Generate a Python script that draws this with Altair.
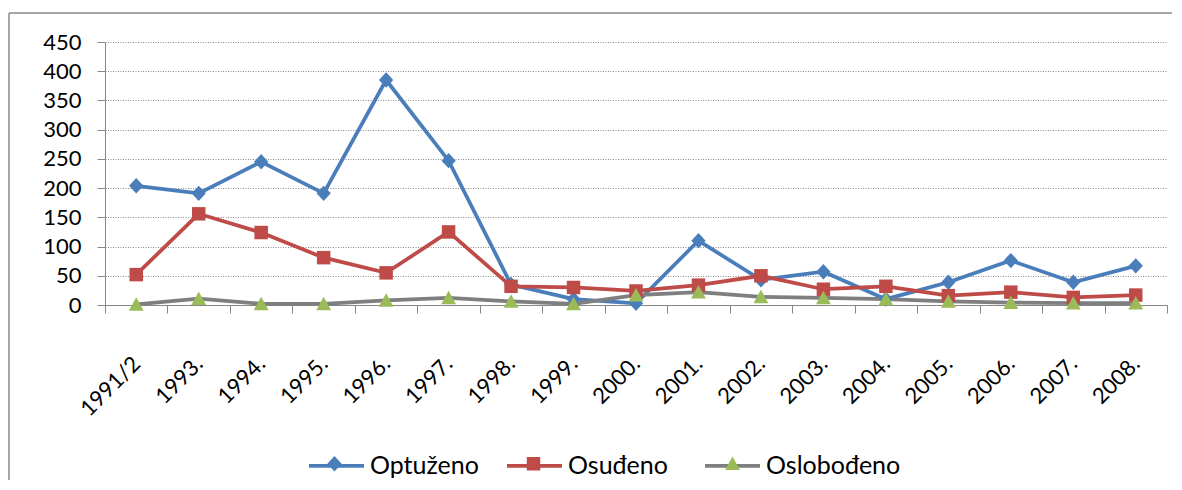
import altair as alt
import pandas as pd

years = ["1991/2", "1993.", "1994.", "1995.", "1996.", "1997.", "1998.", "1999.",
         "2000.", "2001.", "2002.", "2003.", "2004.", "2005.", "2006.", "2007.", "2008."]
optuzeno = [204, 191, 245, 191, 385, 247, 35, 10, 3, 110, 43, 57, 10, 39, 76, 39, 67]
osudjeno = [52, 156, 124, 81, 55, 125, 32, 30, 24, 34, 50, 27, 32, 16, 22, 13, 17]
oslobodjeno = [1, 11, 2, 2, 8, 12, 6, 2, 17, 22, 14, 12, 10, 6, 4, 3, 3]

series_names = ["Optuženo", "Osuđeno", "Oslobođeno"]
marker_codes = ["m1", "m2", "m3"]
line_colors = ["#4A7EBB", "#BE4B48", "#7F7F7F"]
marker_colors = ["#4A7EBB", "#BE4B48", "#9BBB59"]
marker_shapes = [
    "M0,-0.28L0.26,0L0,0.28L-0.26,0Z",
    "M-0.245,-0.245L0.245,-0.245L0.245,0.245L-0.245,0.245Z",
    "M0,-0.26L0.27,0.23L-0.27,0.23Z",
]

rows = []
for name, code, vals in zip(series_names, marker_codes, [optuzeno, osudjeno, oslobodjeno]):
    for i, (yr, v) in enumerate(zip(years, vals)):
        rows.append({"year": yr, "value": v, "series": name, "series_m": code,
                     "order": i})
df = pd.DataFrame(rows)

FONT = "Lato"
GRAY = "#868686"
FRAME = "#8a8a8a"

x_enc = alt.X("year:N", sort=years,
              scale=alt.Scale(type="band", paddingInner=0, paddingOuter=0),
              axis=alt.Axis(title=None, tickBand="extent", labelAngle=-45,
                            labelAlign="right", labelBaseline="middle",
                            labelPadding=47, tickSize=8, tickColor=GRAY,
                            domainColor=GRAY, labelFont=FONT, labelFontSize=22,
                            labelColor="#000000", grid=False))
y_enc = alt.Y("value:Q", scale=alt.Scale(domain=[0, 450], nice=False),
              axis=alt.Axis(title=None, values=list(range(0, 451, 50)),
                            tickSize=8, tickColor=GRAY, domainColor=GRAY,
                            labelFont=FONT, labelFontSize=22, labelColor="#000000",
                            labelPadding=16, grid=True, gridColor="#8a8a8a",
                            gridDash=[1, 1.5], gridWidth=1))

legend_common = dict(orient="none", legendX=202, legendY=394, direction="horizontal",
                     title=None, padding=0, symbolSize=3025, labelFont=FONT,
                     labelFontSize=25, labelColor="#000000", labelOffset=4,
                     gridAlign="all")

dummy = pd.DataFrame({"a": [0]})
frame_left = alt.Chart(dummy).mark_rule(color=FRAME, strokeWidth=1.5, clip=False).encode(
    x=alt.value(-96), y=alt.value(-29), y2=alt.value(700))
frame_top = alt.Chart(dummy).mark_rule(color=FRAME, strokeWidth=1.5, clip=False).encode(
    x=alt.value(-96), x2=alt.value(1100), y=alt.value(-29))

lines = alt.Chart(df).mark_line(strokeWidth=3.75).encode(
    x=x_enc, y=y_enc,
    stroke=alt.Stroke("series:N", sort=series_names,
                      scale=alt.Scale(domain=series_names, range=line_colors),
                      legend=alt.Legend(symbolType="stroke", symbolStrokeWidth=3.75,
                                        columnPadding=-10, **legend_common)),
    order="order:Q",
)

points = alt.Chart(df).mark_point(filled=True, opacity=1, strokeWidth=0, size=3025).encode(
    x=x_enc, y=y_enc,
    fill=alt.Fill("series_m:N", sort=marker_codes,
                  scale=alt.Scale(domain=marker_codes, range=marker_colors),
                  legend=alt.Legend(symbolStrokeWidth=0, labelExpr="''",
                                    columnPadding=140, **legend_common)),
    shape=alt.Shape("series_m:N", sort=marker_codes,
                    scale=alt.Scale(domain=marker_codes, range=marker_shapes),
                    legend=alt.Legend(symbolStrokeWidth=0, labelExpr="''",
                                      columnPadding=140, **legend_common)),
)

chart = alt.layer(frame_left, frame_top, lines, points).properties(
    width=1062, height=263,
    autosize=alt.AutoSizeParams(type="none"),
    padding={"left": 97, "top": 34, "right": 5, "bottom": 175},
    background="white",
).configure_view(stroke=None)

chart.save("out.html", embed_options={"renderer": "svg", "actions": False})
